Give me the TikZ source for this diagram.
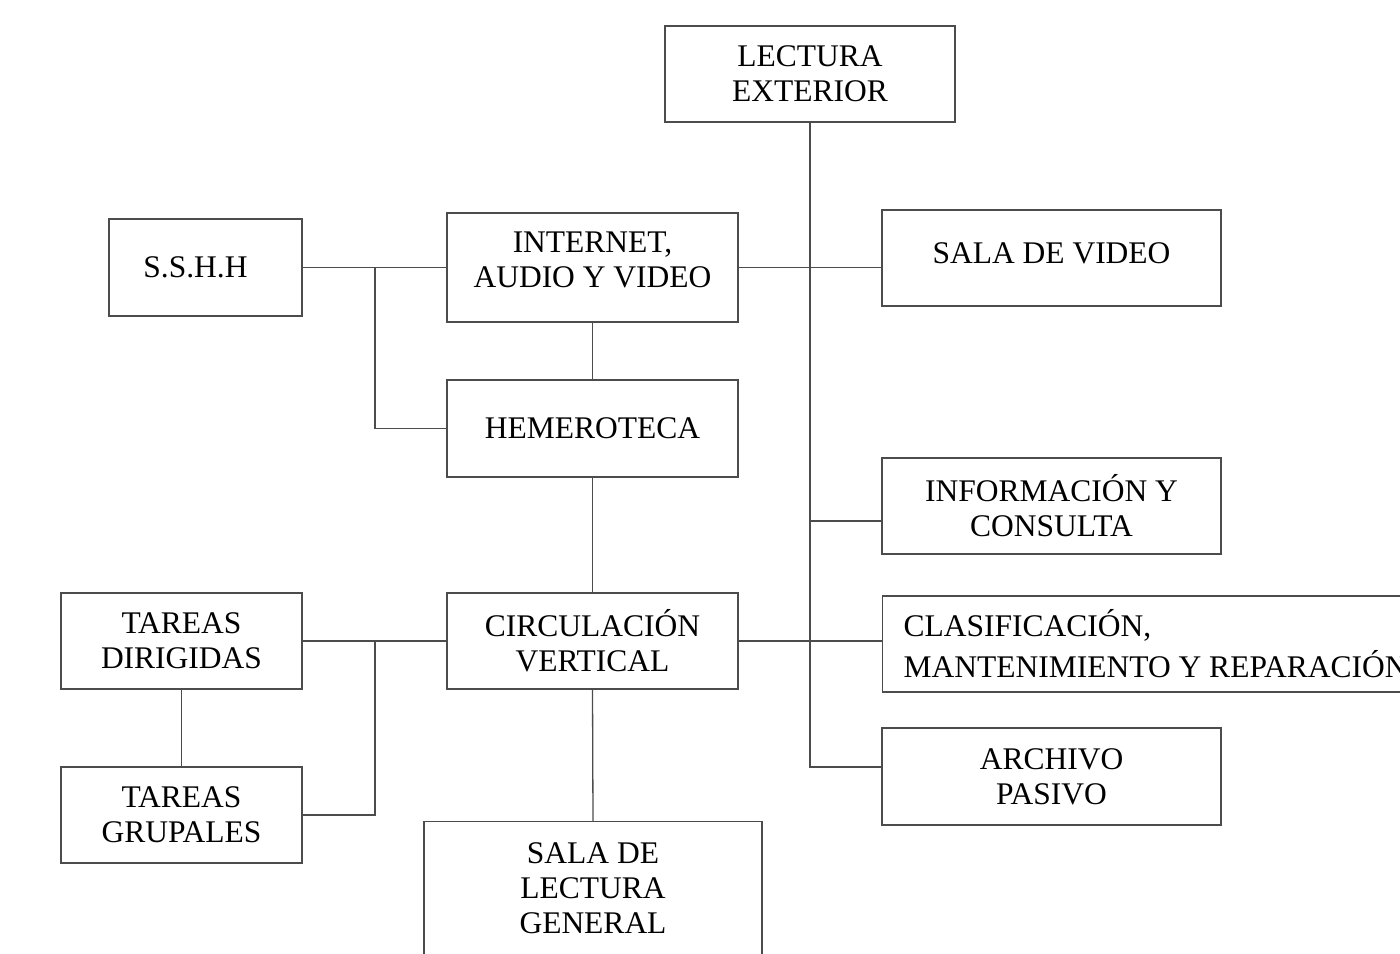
\documentclass[tikz,border=0pt]{standalone}
\usepackage{fontspec}
\setmainfont{Liberation Serif}
\begin{document}
\begin{tikzpicture}[x=1pt,y=-1pt,
    box/.style={draw=black!70,line width=1.3pt,inner sep=0pt,align=center,
      font=\fontsize{31.5}{35}\selectfont},
    link/.style={draw=black!70,line width=1.3pt}]
  \useasboundingbox (0,0) rectangle (1400,953);
  \clip (0,0) rectangle (1400,953);
  % column of the centre
  \node[box,minimum width=290,minimum height=96] (lect) at (810,74) {LECTURA\\EXTERIOR};
  \node[box,minimum width=291,minimum height=109] (inet) at (592.5,267.5) {INTERNET,\\AUDIO Y VIDEO\rule[-15pt]{0pt}{0pt}};
  \node[box,minimum width=291,minimum height=97] (hem) at (592.5,428.5) {HEMEROTECA};
  \node[box,minimum width=291,minimum height=96] (circ) at (592.5,641) {CIRCULACIÓN\\VERTICAL};
  \node[box,anchor=north,minimum width=338,minimum height=134] (slg) at (593,821) {SALA DE\\LECTURA\\GENERAL};
  % left side
  \node[box,minimum width=193,minimum height=97] (sshh) at (205.5,267.5) {S.S.H.H\hspace{20pt}};
  \node[box,minimum width=241,minimum height=96] (tdir) at (181.5,641) {TAREAS\hspace{6pt}\\DIRIGIDAS\hspace{6pt}};
  \node[box,minimum width=241,minimum height=96] (tgru) at (181.5,815) {TAREAS\hspace{6pt}\\GRUPALES\hspace{6pt}};
  % right side
  \node[box,minimum width=339,minimum height=96] (svid) at (1051.5,258) {SALA DE VIDEO\rule[-10pt]{0pt}{0pt}};
  \node[box,minimum width=339,minimum height=96] (info) at (1051.5,506) {INFORMACIÓN Y\\CONSULTA};
  \node[box,anchor=west,align=left,inner xsep=21pt,minimum height=96,
    font=\fontsize{31.5}{41}\selectfont] (clas) at (882,644) {CLASIFICACIÓN,\\MANTENIMIENTO Y REPARACIÓN};
  \node[box,minimum width=339,minimum height=97] (arch) at (1051.5,776.5) {ARCHIVO\\PASIVO};
  % junctions
  \coordinate (jI) at (810,521);
  \coordinate (jA) at (810,767);
  \coordinate (jS) at (375,267.5);
  \coordinate (jT) at (375,641);
  % connectors
  \draw[link] (lect.south) -- (jA) -- (jA -| arch.west);
  \draw[link] (jI) -- (jI -| info.west);
  \draw[link] (inet.east) -- (inet.east -| svid.west);
  \draw[link] (circ.east) -- (circ.east -| clas.west);
  \draw[link] (sshh.east) -- (inet.west);
  \draw[link] (jS) |- (hem.west);
  \draw[link] (inet.south) -- (hem.north);
  \draw[link] (hem.south) -- (circ.north);
  \draw[link] (circ.south) -- (slg.north);
  \draw[link] (tdir.east) -- (circ.west);
  \draw[link] (jT) |- (tgru.east);
  \draw[link] (tdir.south) -- (tgru.north);
\end{tikzpicture}
\end{document}
